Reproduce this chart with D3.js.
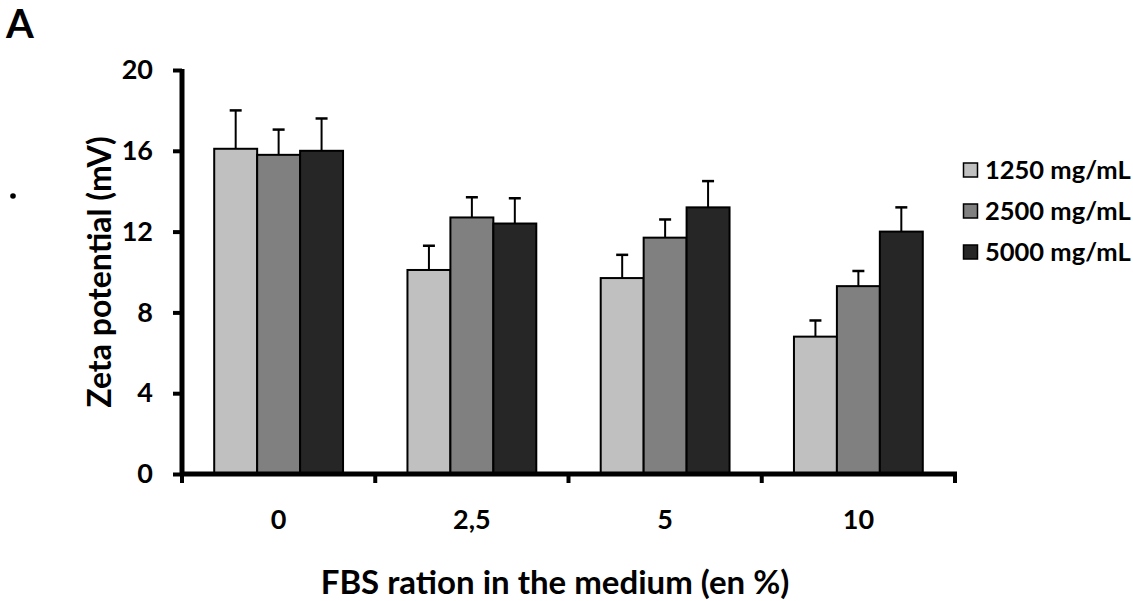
<!DOCTYPE html>
<html>
<head>
<meta charset="utf-8">
<script src="https://cdn.jsdelivr.net/npm/d3@7"></script>
<style>
  html, body { margin: 0; padding: 0; background: #fff; }
  svg { display: block; }
  text { font-family: Lato, "Open Sans", sans-serif; font-weight: 700; fill: #000; }
</style>
</head>
<body>
<svg id="chart" width="1133" height="601"></svg>
<script>
// ---- data ----
const categories = ["0", "2,5", "5", "10"];
const seriesNames = ["1250 mg/mL", "2500 mg/mL", "5000 mg/mL"];
const values1250 = [16.1, 10.1, 9.7, 6.8];
const values2500 = [15.8, 12.7, 11.7, 9.3];
const values5000 = [16.0, 12.4, 13.2, 12.0];
const errors1250 = [1.9, 1.2, 1.15, 0.8];
const errors2500 = [1.25, 1.0, 0.9, 0.75];
const errors5000 = [1.6, 1.25, 1.3, 1.2];
const yTicks = [0, 4, 8, 12, 16, 20];
const colors = ["#c0c0c0", "#808080", "#262626"];

const seriesValues = [values1250, values2500, values5000];
const seriesErrors = [errors1250, errors2500, errors5000];

const svg = d3.select("#chart");
const mLeft = 182, mRight = 955, mTop = 70, mBottom = 474;

const x0 = d3.scaleBand().domain(categories).range([mLeft, mRight]).padding(0);
const bw = x0.bandwidth();
const x1 = d3.scaleBand().domain(seriesNames).range([bw / 6, bw * 5 / 6]).padding(0);
const y = d3.scaleLinear().domain([0, 20]).range([mBottom, mTop]);

// bars
const rows = [];
categories.forEach((c, ci) => {
  seriesNames.forEach((s, si) => {
    rows.push({ c, s, si, v: seriesValues[si][ci], e: seriesErrors[si][ci] });
  });
});

const g = svg.append("g");
// error bars (behind bars)
const eb = g.selectAll("g.err").data(rows).join("g").attr("class", "err");
eb.append("line")
  .attr("x1", d => x0(d.c) + x1(d.s) + x1.bandwidth() / 2)
  .attr("x2", d => x0(d.c) + x1(d.s) + x1.bandwidth() / 2)
  .attr("y1", d => y(d.v))
  .attr("y2", d => y(d.v + d.e))
  .attr("stroke", "#000").attr("stroke-width", 2);
eb.append("line")
  .attr("x1", d => x0(d.c) + x1(d.s) + x1.bandwidth() / 2 - 6)
  .attr("x2", d => x0(d.c) + x1(d.s) + x1.bandwidth() / 2 + 6)
  .attr("y1", d => y(d.v + d.e))
  .attr("y2", d => y(d.v + d.e))
  .attr("stroke", "#000").attr("stroke-width", 2.5);

g.selectAll("rect.bar").data(rows).join("rect").attr("class", "bar")
  .attr("x", d => x0(d.c) + x1(d.s))
  .attr("width", x1.bandwidth())
  .attr("y", d => y(d.v))
  .attr("height", d => y(0) - y(d.v))
  .attr("fill", d => colors[d.si])
  .attr("stroke", "#000").attr("stroke-width", 2);

// y axis
const yAxis = svg.append("g").attr("transform", `translate(${mLeft},0)`)
  .call(d3.axisLeft(y).tickValues(yTicks).tickSize(9).tickSizeOuter(0).tickPadding(20));
yAxis.select(".domain").attr("stroke", "#000").attr("stroke-width", 5)
  .attr("d", `M0,${mTop - 1}V${mBottom + 2}`);
yAxis.selectAll(".tick line").attr("stroke", "#000").attr("stroke-width", 4);
yAxis.selectAll(".tick text").style("font-size", "27px").style("font-family", "Lato").style("font-weight", "700");

// x axis
const xAxis = svg.append("g").attr("transform", `translate(0,${mBottom})`)
  .call(d3.axisBottom(x0).tickSize(0).tickPadding(36));
xAxis.select(".domain").attr("stroke", "#000").attr("stroke-width", 5)
  .attr("d", `M${mLeft - 2},0H${mRight + 2}`);
xAxis.selectAll(".tick text").style("font-size", "27px").style("font-family", "Lato").style("font-weight", "700");
const boundaries = categories.map(c => x0(c)).concat([x0(categories[categories.length - 1]) + bw]);
xAxis.selectAll("line.bt").data(boundaries).join("line").attr("class", "bt")
  .attr("x1", d => d).attr("x2", d => d)
  .attr("y1", 0).attr("y2", 9)
  .attr("stroke", "#000").attr("stroke-width", 4);

// axis titles
svg.append("text").attr("x", 555).attr("y", 594).attr("text-anchor", "middle")
  .style("font-size", "33px").text("FBS ration in the medium (en %)");
svg.append("text").attr("transform", "translate(111,272) rotate(-90)").attr("text-anchor", "middle")
  .style("font-size", "32px").text("Zeta potential (mV)");

// panel label and dot
svg.append("text").attr("x", 6).attr("y", 38).style("font-size", "40px").text("A");
svg.append("circle").attr("cx", 13).attr("cy", 196).attr("r", 2.8).attr("fill", "#000");

// legend
const leg = svg.append("g").attr("transform", "translate(963,163)");
const li = leg.selectAll("g").data(seriesNames).join("g")
  .attr("transform", (d, i) => `translate(0,${i * 41})`);
li.append("rect").attr("x", 0.5).attr("y", 0).attr("width", 14).attr("height", 14)
  .attr("fill", (d, i) => colors[i]).attr("stroke", "#000").attr("stroke-width", 1.5);
li.append("text").attr("x", 22).attr("y", 15.5).style("font-size", "25.5px").text(d => d);
</script>
</body>
</html>
